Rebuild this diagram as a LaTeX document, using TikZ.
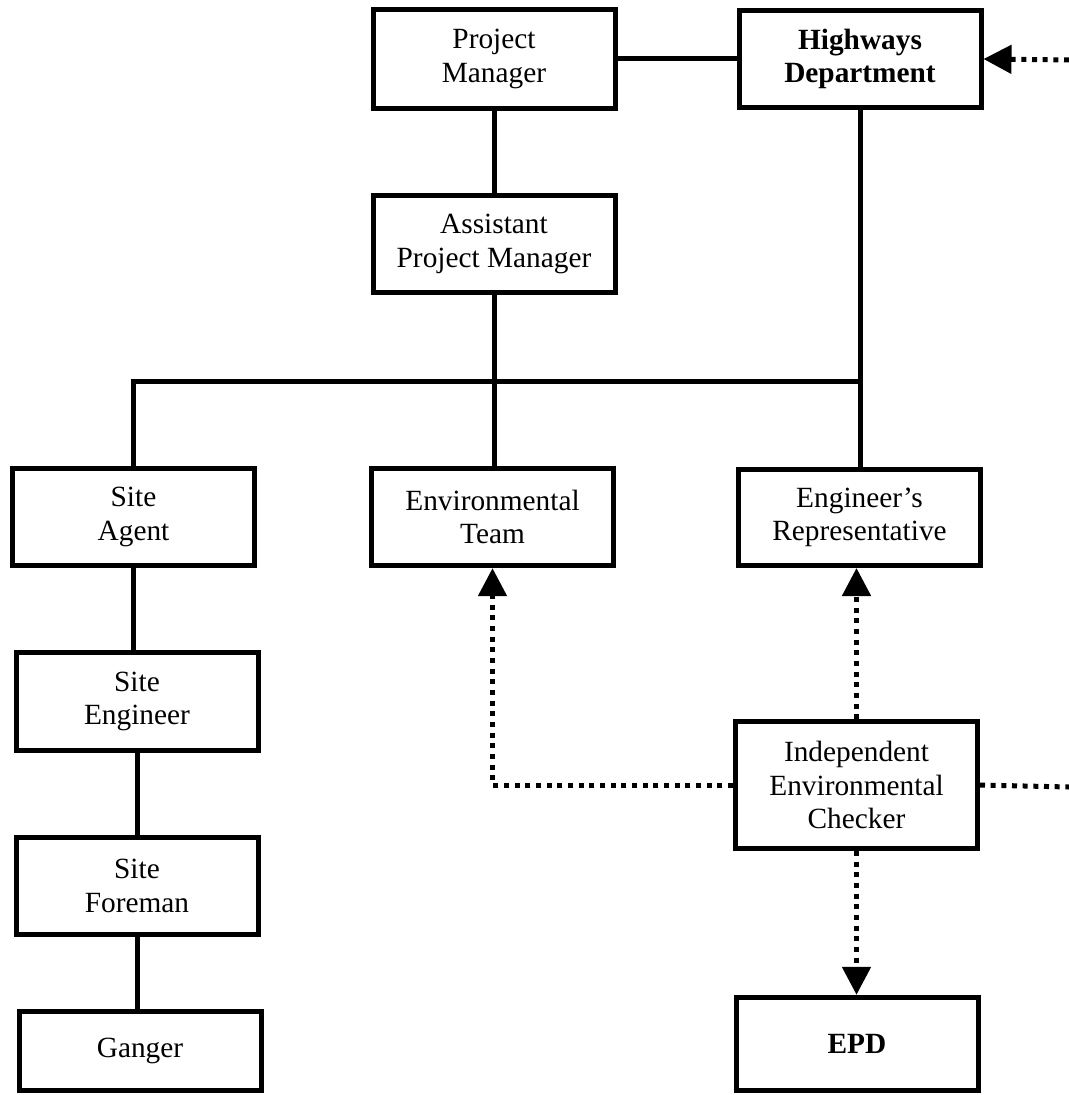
\documentclass[tikz,border=0pt]{standalone}
\usepackage{fontspec}
\setmainfont{Liberation Serif}
\usetikzlibrary{arrows.meta}
\begin{document}
\begin{tikzpicture}[x=0.75pt,y=-0.75pt,
  box/.style={draw, line width=3.75pt, inner sep=0pt, align=center,
    minimum width=181.5pt, font=\fontsize{22}{25}\selectfont},
  solidline/.style={line width=3.75pt},
  dotline/.style={line width=3.75pt, dash pattern=on 3.75pt off 4.25pt},
  tip/.style={-{Triangle[length=21pt,width=21pt]}}
]
\useasboundingbox (0,0) rectangle (1069,1095);
% boxes
\node[box, minimum height=74pt] (PM)  at (494,59)   {Project\\Manager};
\node[box, minimum height=73pt, font=\fontsize{22}{25}\selectfont\bfseries] (HD) at (860,59) {Highways\\Department};
\node[box, minimum height=73pt] (APM) at (494,244)  {Assistant\\Project Manager};
\node[box, minimum height=73pt] (SA)  at (133.5,517) {Site\\Agent};
\node[box, minimum height=73pt] (ET)  at (492.5,517) {Environmental\\Team};
\node[box, minimum height=72pt] (ER)  at (859.5,517.5) {Engineer’s\\Representative};
\node[box, minimum height=73.5pt] (SE) at (137,701.5) {Site\\Engineer};
\node[box, minimum height=95pt] (IEC) at (856.5,785) {Independent\\Environmental\\Checker};
\node[box, minimum height=73pt] (SF)  at (137,886)  {Site\\Foreman};
\node[box, minimum height=59pt] (G)   at (140,1051) {Ganger};
\node[box, minimum height=70pt, font=\fontsize{22}{25}\selectfont\bfseries] (EPD) at (857,1044) {EPD};
% free ends
\coordinate (busR) at (860,381);
\coordinate (rtop) at (1069,60);
\coordinate (rmid) at (1069,787);
% solid connectors
\draw[solidline] (PM.east) -- (HD.west);
\draw[solidline] (PM.south) -- (APM.north);
\draw[solidline] (HD.south) -- (HD.south |- ER.north);
\draw[solidline] (APM.south) -- (APM.south |- ET.north);
\draw[solidline] (SA.north) |- (busR);
\draw[solidline] (SA.south) -- (SA.south |- SE.north);
\draw[solidline] (SE.south) -- (SE.south |- SF.north);
\draw[solidline] (SF.south) -- (SF.south |- G.north);
% dotted connectors
\draw[dotline, tip] (IEC.north) -- (IEC.north |- ER.south);
\draw[dotline, tip] (IEC.west) -| (ET.south);
\draw[dotline, tip] (IEC.south) -- (IEC.south |- EPD.north);
\draw[dotline] (IEC.east) -- (rmid);
\draw[dotline, tip] (rtop) -- (HD.east);
\end{tikzpicture}
\end{document}
